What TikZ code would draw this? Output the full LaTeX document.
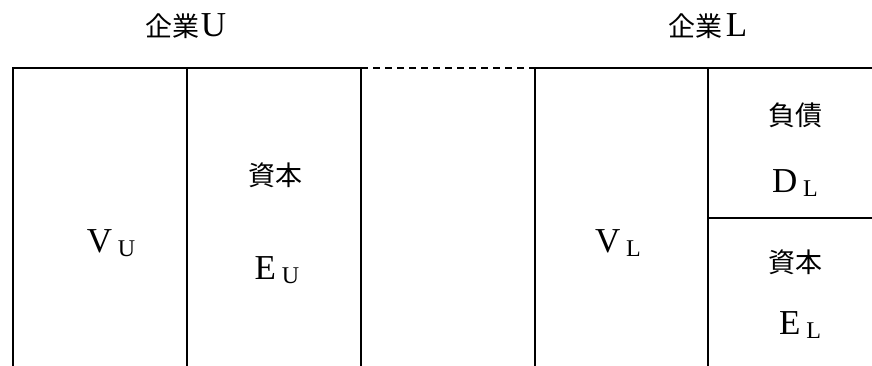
\documentclass[tikz,border=0pt]{standalone}
\usepackage{fontspec}
\setmainfont{Liberation Serif}
\newfontfamily\cjk{Noto Sans CJK JP}
\begin{document}
\begin{tikzpicture}[x=1pt,y=-1pt,
  rule/.style={line width=1.6pt,line cap=rect},
  jp/.style={font=\cjk\fontsize{27}{30}\selectfont,inner sep=0pt},
  sym/.style={font=\fontsize{35}{38}\selectfont,inner sep=0pt}]
\useasboundingbox (0,0) rectangle (872,365);
% corner coordinates
\coordinate (a1) at (13,68);
\coordinate (a2) at (187,68);
\coordinate (a3) at (361,68);
\coordinate (b1) at (535,68);
\coordinate (b2) at (708,68);
\coordinate (b3) at (872,68);
\coordinate (a1b) at (13,365);
\coordinate (a2b) at (187,365);
\coordinate (a3b) at (361,365);
\coordinate (b1b) at (535,365);
\coordinate (b2b) at (708,365);
\coordinate (m1) at (708,218);
\coordinate (m2) at (872,218);
% lines
\draw[rule] (a1b) -- (a1) -- (a3) -- (a3b);
\draw[rule] (a2) -- (a2b);
\draw[line width=1.3pt,dash pattern=on 7pt off 5pt] (a3) -- (b1);
\draw[rule] (b1b) -- (b1) -- (b3);
\draw[rule] (b2) -- (b2b);
\draw[rule] (m1) -- (m2);
% labels
\node[jp] (tu) at (186,26) {企業\hspace{1pt}{\fontspec{Liberation Serif}\fontsize{35}{38}\selectfont U}};
\node[jp] (tl) at (708,26) {企業\hspace{3pt}{\fontspec{Liberation Serif}\fontsize{35}{38}\selectfont L}};
\node[sym] (vu) at (111,243) {V\,{\fontsize{24}{26}\selectfont\raisebox{-4pt}{U}}};
\node[jp] (su) at (275,175) {資本};
\node[sym] (eu) at (277,270) {E\,{\fontsize{24}{26}\selectfont\raisebox{-4pt}{U}}};
\node[sym] (vl) at (618,243) {V\,{\fontsize{24}{26}\selectfont\raisebox{-4pt}{L}}};
\node[jp] (fs) at (795,115) {負債};
\node[sym] (dl) at (795,183) {D\,{\fontsize{24}{26}\selectfont\raisebox{-4pt}{L}}};
\node[jp] (sl) at (795,262) {資本};
\node[sym] (el) at (800,325) {E\,{\fontsize{24}{26}\selectfont\raisebox{-4pt}{L}}};
\end{tikzpicture}
\end{document}
